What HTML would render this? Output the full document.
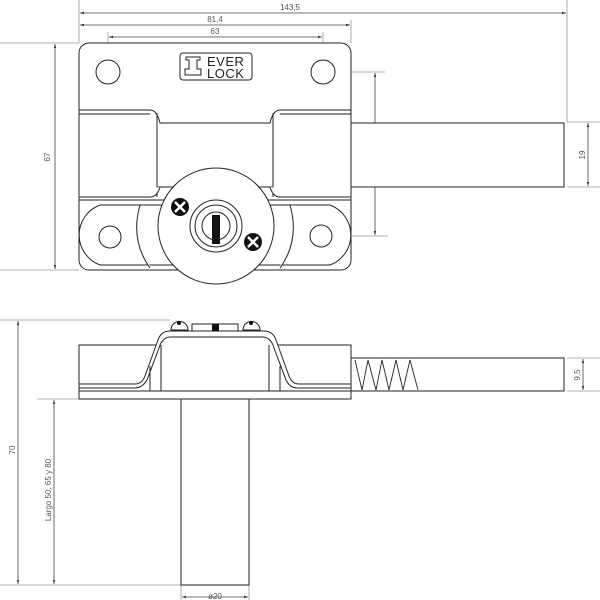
<!DOCTYPE html>
<html><head><meta charset="utf-8"><style>
html,body{margin:0;padding:0;background:#fff;}
svg{display:block;font-family:"Liberation Sans",sans-serif;}
</style></head><body>
<svg width="600" height="600" viewBox="0 0 600 600" xmlns="http://www.w3.org/2000/svg">
<defs>
<marker id="a" viewBox="0 0 10 10" refX="10" refY="5" markerWidth="5" markerHeight="5" orient="auto-start-reverse"><path d="M0,2 L10,5 L0,8z" fill="#333"/></marker>
</defs>
<g fill="none" stroke="#999" stroke-width="0.8">
<!-- extension lines -->
<line x1="79" y1="0" x2="79" y2="43"/>
<line x1="567" y1="0" x2="567" y2="122"/>
<line x1="351" y1="20" x2="351" y2="43"/>
<line x1="108" y1="32" x2="108" y2="90"/>
<line x1="323" y1="32" x2="323" y2="72"/>
<line x1="0" y1="43" x2="79" y2="43"/>
<line x1="0" y1="270" x2="79" y2="270"/>
<line x1="300" y1="72" x2="385" y2="72"/>
<line x1="300" y1="236" x2="388" y2="236"/>
<line x1="567" y1="122" x2="600" y2="122"/>
<line x1="567" y1="187" x2="600" y2="187"/>
<line x1="567" y1="358" x2="600" y2="358"/>
<line x1="567" y1="391" x2="600" y2="391"/>
<line x1="0" y1="320" x2="170" y2="320"/>
<line x1="0" y1="585" x2="181" y2="585"/>
<line x1="37" y1="399" x2="78" y2="399"/>
<line x1="181" y1="585" x2="181" y2="600"/>
<line x1="249" y1="585" x2="249" y2="600"/>
</g>
<g stroke="#444" stroke-width="0.8" fill="none">
<line x1="80" y1="13" x2="566" y2="13" marker-start="url(#a)" marker-end="url(#a)"/>
<line x1="80" y1="25" x2="350" y2="25" marker-start="url(#a)" marker-end="url(#a)"/>
<line x1="109" y1="37" x2="322" y2="37" marker-start="url(#a)" marker-end="url(#a)"/>
<line x1="55" y1="44" x2="55" y2="269" marker-start="url(#a)" marker-end="url(#a)"/>
<line x1="375" y1="73" x2="375" y2="235" marker-start="url(#a)" marker-end="url(#a)"/>
<line x1="588" y1="123" x2="588" y2="186" marker-start="url(#a)" marker-end="url(#a)"/>
<line x1="583" y1="359" x2="583" y2="390" marker-start="url(#a)" marker-end="url(#a)"/>
<line x1="18" y1="321" x2="18" y2="584" marker-start="url(#a)" marker-end="url(#a)"/>
<line x1="54" y1="400" x2="54" y2="584" marker-start="url(#a)" marker-end="url(#a)"/>
<line x1="182" y1="597" x2="248" y2="597" marker-start="url(#a)" marker-end="url(#a)"/>
<line x1="94" y1="81" x2="125" y2="64"/><line x1="125" y1="64" x2="140" y2="66"/>
</g>
<g fill="#555" font-size="8">
<text x="290" y="10" text-anchor="middle">143,5</text>
<text x="215" y="22" text-anchor="middle">81,4</text>
<text x="215" y="34" text-anchor="middle">63</text>
<text x="128" y="65">ø7</text>
<text x="215" y="599" text-anchor="middle">ø20</text>
<text transform="translate(50,157) rotate(-90)" text-anchor="middle">67</text>
<text transform="translate(372,155) rotate(-90)" text-anchor="middle">46,5</text>
<text transform="translate(585,155) rotate(-90)" text-anchor="middle">19</text>
<text transform="translate(580,375) rotate(-90)" text-anchor="middle">9,5</text>
<text transform="translate(15,450) rotate(-90)" text-anchor="middle">70</text>
<text transform="translate(51,490) rotate(-90)" text-anchor="middle">Largo 50, 65 y 80</text>
</g>
<g fill="#fff" stroke="#222" stroke-width="1">
<!-- top view -->
<rect x="351" y="123" width="213" height="64"/>
<rect x="79" y="43" width="272" height="227" rx="10"/>
<path d="M79,110 H150 Q157,110 160,123 H270 Q273,110 280,110 H351"/>
<path d="M79,114 H150 M280,114 H351"/>
<line x1="157" y1="113" x2="157" y2="197"/>
<line x1="273" y1="113" x2="273" y2="197"/>
<path d="M157,187 H273"/>
<path d="M79,197 H150 Q157,197 160,187 M270,187 Q273,197 280,197 H351"/>
<path d="M79,200 H351"/>
<path d="M100,205 H330 A32,32 0 0 1 330,265 H100 A32,32 0 0 1 100,205z"/>
<path d="M140,205 Q130,240 150,268 M290,205 Q300,240 280,268"/>
<circle cx="108" cy="72" r="12"/>
<circle cx="323" cy="72" r="12"/>
<circle cx="110" cy="237" r="11"/>
<circle cx="321" cy="236" r="11"/>
<circle cx="216" cy="226" r="58"/>
<circle cx="216" cy="226" r="26"/>
<circle cx="216" cy="226" r="21"/>
<circle cx="216" cy="226" r="14"/>
<rect x="180" y="53" width="72" height="27" rx="3"/>
</g>
<rect x="212" y="215" width="8" height="29" fill="#111"/>
<g fill="#111">
<circle cx="180" cy="207" r="9"/><circle cx="253" cy="242" r="9"/>
<circle cx="215" cy="527" r="8"/><circle cx="215" cy="574" r="8"/>
</g>
<g stroke="#fff" stroke-width="2.5">
<path d="M175,202 L185,212 M185,202 L175,212"/>
<path d="M248,237 L258,247 M258,237 L248,247"/>
<path d="M211,523 L219,531 M219,523 L211,531"/>
<path d="M211,570 L219,578 M219,570 L211,578"/>
</g>
<g fill="#222" font-size="13">
<text x="207" y="66" letter-spacing="0.5">EVER</text>
<text x="207" y="78" letter-spacing="0.5">LOCK</text>
</g>
<path d="M186,57 h14 v3 h-3 v9 h4 v6 h-16 v-6 h4 v-9 h-3z" fill="#fff" stroke="#222" stroke-width="1"/>
<!-- bottom view -->
<g fill="#fff" stroke="#222" stroke-width="1">
<rect x="351" y="358" width="213" height="33"/>
<rect x="79" y="345" width="272" height="46"/>
<rect x="79" y="391" width="272" height="8"/>
<rect x="181" y="399" width="68" height="186"/>
<path d="M171,330 A7,7 0 0 1 188,330 Z"/>
<path d="M243,330 A7,7 0 0 1 260,330 Z"/>
<rect x="192" y="324" width="46" height="7"/>
<path d="M79,384 H135 Q142,384 145,376 L158,340 Q161,331 170,331 H264 Q273,331 276,340 L289,376 Q292,384 299,384 H351"/>
<path d="M79,388 H135 Q142,388 147,380 L159,348 Q162,337 171,337 H262 Q271,337 274,348 L286,380 Q290,388 297,388 H351"/>
<line x1="150" y1="366" x2="150" y2="391"/>
<line x1="161" y1="345" x2="161" y2="391"/>
<line x1="269" y1="345" x2="269" y2="391"/>
<line x1="280" y1="366" x2="280" y2="391"/>
<path d="M355,360 L362,390 L368,360 L376,390 L382,360 L389,390 L396,360 L403,390 L410,360 L418,390" stroke-width="0.9"/>
</g>
<rect x="212" y="324" width="7" height="7" fill="#111"/>
<circle cx="179" cy="323" r="2" fill="#111"/><circle cx="251" cy="323" r="2" fill="#111"/>
</svg>
</body></html>
